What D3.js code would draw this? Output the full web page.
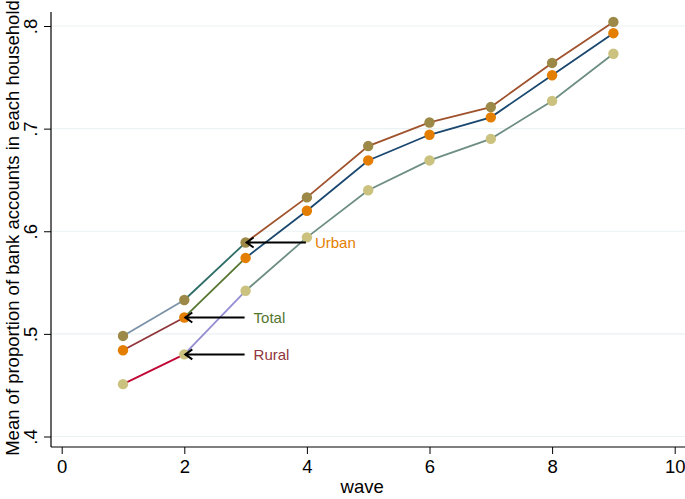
<!DOCTYPE html>
<html>
<head>
<meta charset="utf-8">
<script src="https://cdn.jsdelivr.net/npm/d3@7"></script>
<style>
  html, body { margin: 0; padding: 0; background: #fff; }
  svg { display: block; font-family: "Liberation Sans", Arial, sans-serif; }
</style>
</head>
<body>
<svg id="chart" width="685" height="499"></svg>
<script>
// ---- data ----
const waves = [1, 2, 3, 4, 5, 6, 7, 8, 9];
const urban = [0.498, 0.533, 0.589, 0.633, 0.683, 0.706, 0.721, 0.764, 0.804];
const total = [0.484, 0.516, 0.574, 0.620, 0.669, 0.694, 0.711, 0.752, 0.793];
const rural = [0.451, 0.480, 0.542, 0.594, 0.640, 0.669, 0.690, 0.727, 0.773];
const xTicks = [0, 2, 4, 6, 8, 10];
const yTicks = [0.4, 0.5, 0.6, 0.7, 0.8];
const yTickLabels = [".4", ".5", ".6", ".7", ".8"];
const seriesNames = ["Urban", "Total", "Rural"];
// arrow annotations: label, series index, wave pointed at
const annoLabels = ["Urban", "Total", "Rural"];
const annoSeries = [0, 1, 2];
const annoWave = [3, 2, 2];

// ---- styles ----
const pointColors = ["#9c8847", "#e37e00", "#cac27e"];
// segment colours: [1-2, 2-3, 3-9]
const segColors = [
  ["#7b92a8", "#2d6d66", "#a0522d"],
  ["#90353b", "#55752f", "#1a476f"],
  ["#c10534", "#938dd2", "#6e8e84"]
];
const labelColors = ["#e37e00", "#55752f", "#90353b"];

const svg = d3.select("#chart");
const W = 685, H = 499;
const x = d3.scaleLinear().domain([0, 10]).range([61.7, 674.7]);
const y = d3.scaleLinear().domain([0.4, 0.8]).range([436.5, 26]);
const axisX = 51, axisY = 447;

// gridlines
svg.append("g").selectAll("line").data(yTicks).join("line")
  .attr("x1", axisX).attr("x2", W)
  .attr("y1", d => y(d)).attr("y2", d => y(d))
  .attr("stroke", "#eaf2f3").attr("stroke-width", 1.2);

// y axis
const yAxis = d3.axisLeft(y).tickValues(yTicks).tickSize(7)
  .tickFormat((d, i) => yTickLabels[i]);
const gy = svg.append("g").attr("transform", `translate(${axisX},0)`).call(yAxis);
gy.select(".domain").remove();
gy.selectAll(".tick line").attr("stroke", "#000");
gy.selectAll(".tick text")
  .attr("x", 0).attr("dy", 0)
  .attr("transform", "translate(-14,0) rotate(-90)")
  .attr("text-anchor", "middle")
  .attr("font-size", 18.5).attr("fill", "#000")
  .attr("font-family", "Liberation Sans, Arial, sans-serif");
svg.append("line").attr("x1", axisX).attr("x2", axisX).attr("y1", 12).attr("y2", axisY)
  .attr("stroke", "#000").attr("stroke-width", 1.2);

// x axis
const xAxis = d3.axisBottom(x).tickValues(xTicks).tickSize(7).tickFormat(d3.format("d"));
const gx = svg.append("g").attr("transform", `translate(0,${axisY})`).call(xAxis);
gx.select(".domain").remove();
gx.selectAll(".tick line").attr("stroke", "#000");
gx.selectAll(".tick text").attr("y", 13).attr("dy", "0.71em")
  .attr("font-size", 18.5).attr("fill", "#000")
  .attr("font-family", "Liberation Sans, Arial, sans-serif");
svg.append("line").attr("x1", axisX).attr("x2", W).attr("y1", axisY).attr("y2", axisY)
  .attr("stroke", "#000").attr("stroke-width", 1.2);

// axis titles
svg.append("text").attr("x", x(5) - 6).attr("y", 493).attr("text-anchor", "middle")
  .attr("font-size", 18.5).text("wave");
svg.append("text").attr("transform", `translate(19,${228}) rotate(-90)`)
  .attr("text-anchor", "middle").attr("font-size", 18.5)
  .text("Mean of proportion of bank accounts in each household");

// lines
const allSeries = [urban, total, rural];
const segRanges = [[0, 1], [1, 2], [2, 8]];
const lineGen = d3.line().x(d => x(d[0])).y(d => y(d[1]));
allSeries.forEach((vals, si) => {
  const pts = waves.map((w, i) => [w, vals[i]]);
  segRanges.forEach((r, k) => {
    svg.append("path").datum(pts.slice(r[0], r[1] + 1))
      .attr("d", lineGen).attr("fill", "none")
      .attr("stroke", segColors[si][k]).attr("stroke-width", 1.8);
  });
});
// points
allSeries.forEach((vals, si) => {
  svg.append("g").selectAll("circle").data(waves.map((w, i) => [w, vals[i]])).join("circle")
    .attr("cx", d => x(d[0])).attr("cy", d => y(d[1])).attr("r", 5.2)
    .attr("fill", pointColors[si]);
});

// annotations
annoLabels.forEach((lab, i) => {
  const vals = allSeries[annoSeries[i]];
  const w = annoWave[i];
  const yy = y(vals[w - 1]);
  const hx = x(w) + 1, tx = x(w + 1) - 1;
  const g = svg.append("g").attr("stroke", "#000").attr("stroke-width", 2).attr("fill", "none");
  g.append("line").attr("x1", hx).attr("x2", tx).attr("y1", yy).attr("y2", yy);
  g.append("polyline").attr("points", `${hx + 7},${yy - 5} ${hx},${yy} ${hx + 7},${yy + 5}`);
  svg.append("text").attr("x", x(w + 1) + 8).attr("y", yy).attr("dy", "0.35em")
    .attr("font-size", 15).attr("fill", labelColors[i]).text(lab);
});
</script>
</body>
</html>
